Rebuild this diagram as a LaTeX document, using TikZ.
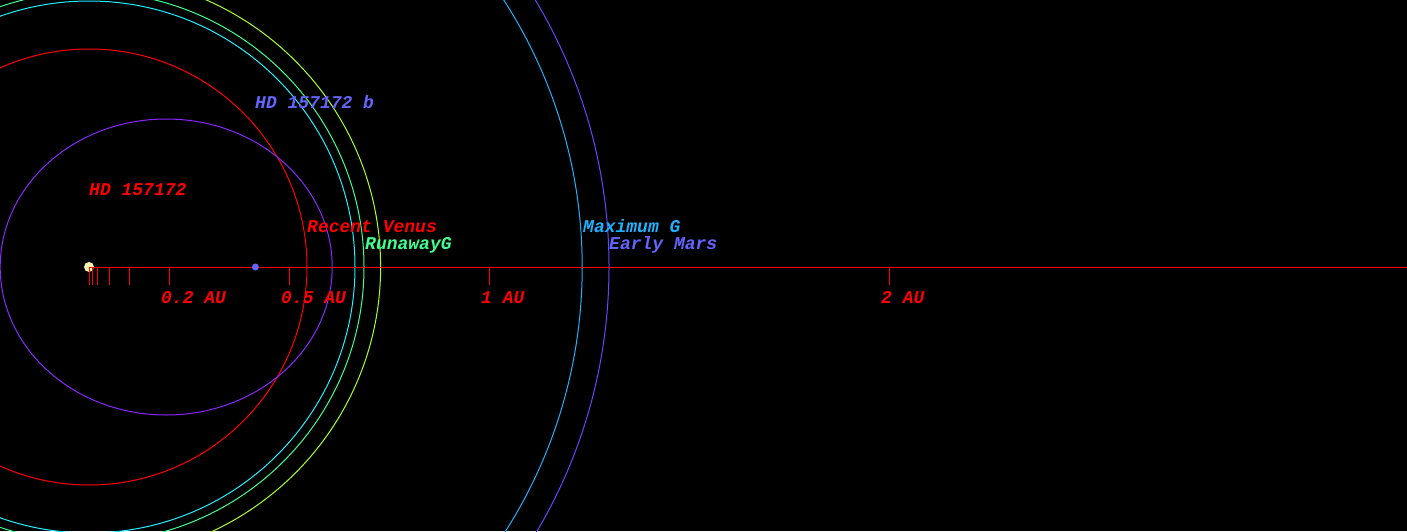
\documentclass[tikz,border=0pt]{standalone}
\usepackage{fontspec}
\setmonofont{Liberation Mono}
\usepackage{xcolor}
\definecolor{orbred}{RGB}{255,0,0}
\definecolor{orbviolet}{RGB}{136,40,255}
\definecolor{orbcyan}{RGB}{32,240,255}
\definecolor{orbgreen}{RGB}{64,255,144}
\definecolor{orblime}{RGB}{168,255,48}
\definecolor{orbsky}{RGB}{32,176,255}
\definecolor{orbmars}{RGB}{100,72,255}
\definecolor{orbblue}{RGB}{100,100,255}
\definecolor{starcol}{RGB}{255,245,176}

\begin{document}
\begin{tikzpicture}[x=400pt,y=400pt,every node/.style={inner sep=0pt,anchor=base west,font=\fontsize{18}{18}\selectfont\ttfamily\bfseries\itshape},orbit/.style={line width=1pt}]
\fill[black] (-0.2225,-0.66) rectangle (3.295,0.6675);
\useasboundingbox (-0.2225,-0.66) rectangle (3.295,0.6675);
\clip (-0.2225,-0.66) rectangle (3.295,0.6675);
%-------------
\draw[orbit,orbred] (0,0) circle (0.545);
\draw[orbit,orbviolet] (0.193,0) ellipse (0.415 and 0.37);
\draw[orbit,orbcyan] (0,0) circle (0.665);
\draw[orbit,orbgreen] (0,0) circle (0.6875);
\draw[orbit,orblime] (0,0) circle (0.729);
\draw[orbit,orbsky] (0,0) circle (1.233);
\draw[orbit,orbmars] (0,0) circle (1.3);
%-------------
\fill[starcol] (0,0) circle (5pt);
\draw[orbit,orbred] (0,0) -- (3.3,0);
\foreach \au in {0,0.01,0.02,0.05,0.1,0.2,0.5,1,2}
\draw[orbit,orbred] (\au,0) -- (\au,-0.045);
\fill[orbblue] (0.416,0) circle (3.5pt);
%-------------
\node[text=orbred] (t02) at (0.18,-0.09) {0.2 AU};
\node[text=orbred] (t05) at (0.48,-0.09) {0.5 AU};
\node[text=orbred] (t1) at (0.98,-0.09) {1 AU};
\node[text=orbred] (t2) at (1.98,-0.09) {2 AU};
%------------
\node[text=orbblue] (hdb) at (0.415,0.395) {HD 157172 b};
\node[text=orbred] (hd) at (0,0.1775) {HD 157172};
\node[text=orbred] (venus) at (0.545,0.0875) {Recent Venus};
\node[text=orbgreen] (runaway) at (0.69,0.045) {RunawayG};
\node[text=orbsky] (maxg) at (1.235,0.0875) {Maximum G};
\node[text=orbblue] (mars) at (1.3,0.045) {Early Mars};
\end{tikzpicture}
\end{document}
